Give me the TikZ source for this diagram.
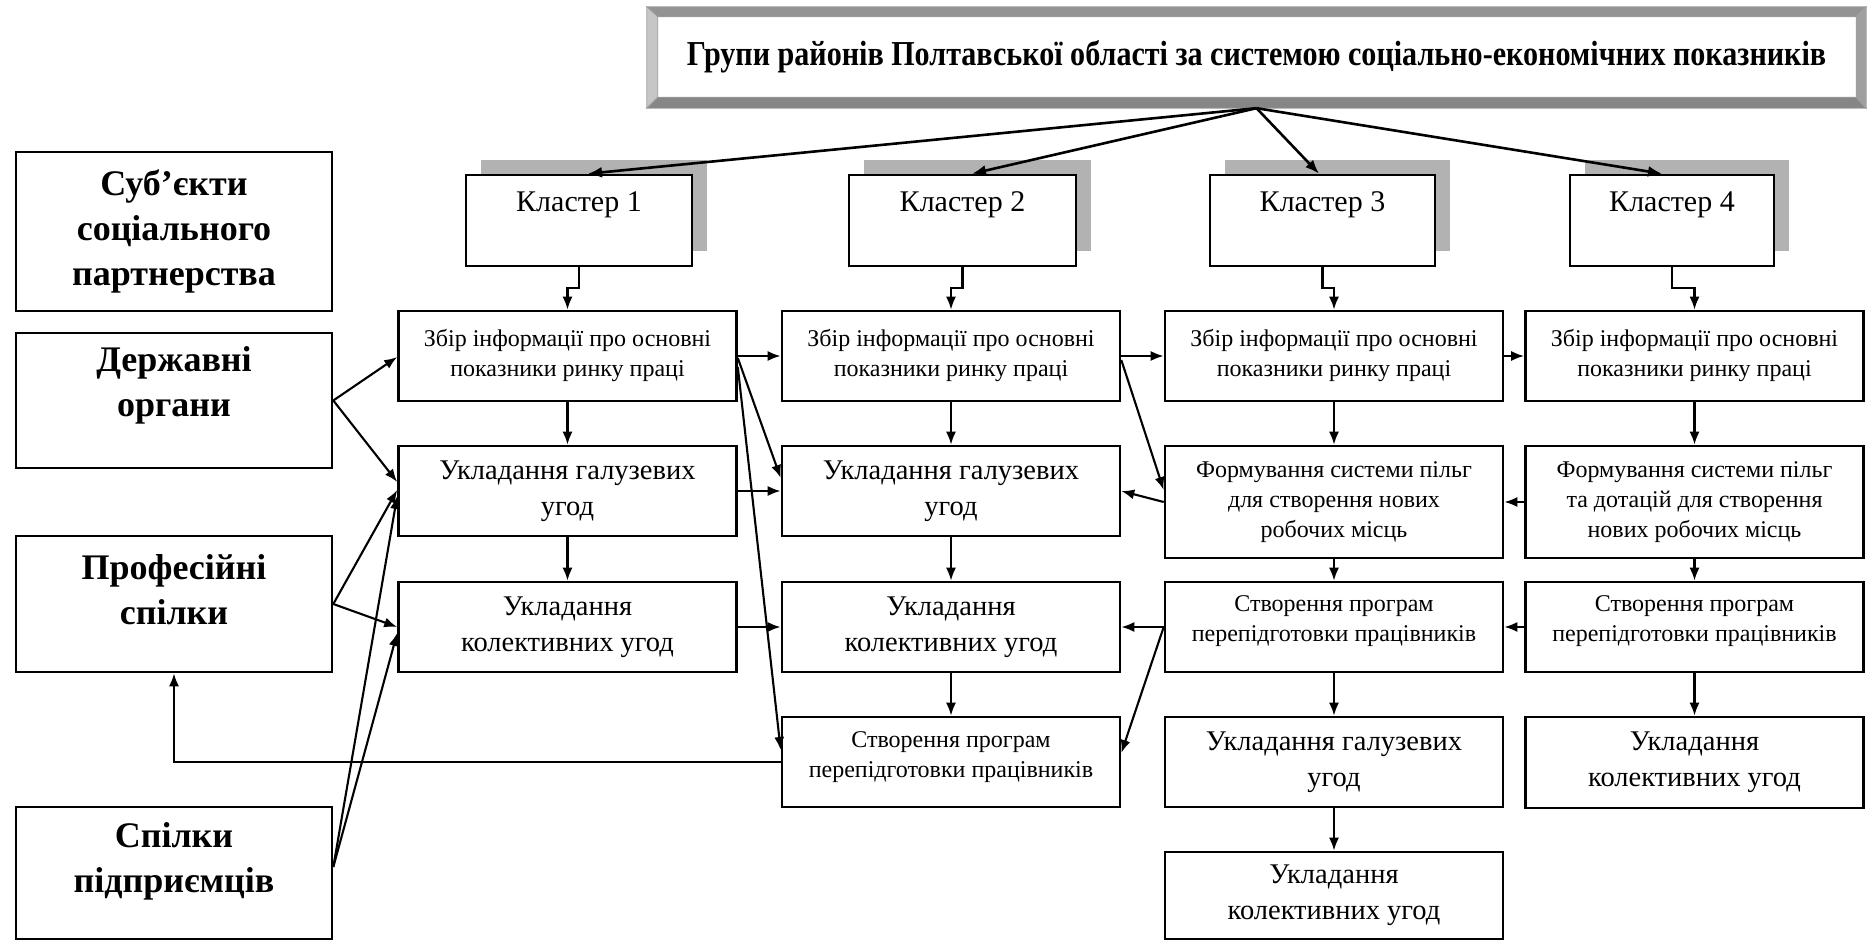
\documentclass[tikz,border=0pt]{standalone}
\usepackage{fontspec}
\setmainfont{Liberation Serif}
\newfontfamily\headfont{Liberation Serif}[FakeStretch=0.86]
\usetikzlibrary{arrows.meta,calc,shadows}

\tikzset{
  txs/.style={font=\fontsize{24}{30}\selectfont},
  txl/.style={font=\fontsize{28.5}{36}\selectfont},
  txk/.style={font=\fontsize{30}{36}\selectfont},
  txb/.style={font=\fontsize{36}{45}\selectfont\bfseries, align=center},
  box/.style={draw=black, line width=2.6pt, fill=white, inner sep=0pt,
    align=center, minimum width=338pt, minimum height=90pt},
  lbox/.style={box, minimum width=316pt, txb},
  clu/.style={box, minimum height=91pt,
    general shadow={fill=gray!60, shadow xshift=15pt, shadow yshift=15pt}},
  cluname/.style={txk, yshift=16pt},
  titlebox/.style={fill=white, inner sep=0pt,
    minimum width=1219pt, minimum height=101pt,
    font=\headfont\fontsize{35}{40}\selectfont\bfseries},
  bevel/.style={draw=gray!75, line width=0.8pt},
  arr/.style={line width=2.1pt, -{Latex[length=13pt,width=10pt]}},
  tarr/.style={line width=2.6pt, -{Latex[length=14pt,width=11pt]}},
}

\begin{document}
\begin{tikzpicture}[x=1pt,y=-1pt]
\useasboundingbox (0,0) rectangle (1869,941);

% heading with a bevelled frame
\node[titlebox, text depth=0pt] (title) at (1256.5,57.5)
  {\raisebox{9pt}{Групи районів Полтавської області за системою соціально-економічних показників}};
\fill[bevel, fill=gray!85] (title.north west) -- (title.north east)
  -- ($(title.north east)+(-10,10)$) -- ($(title.north west)+(11,10)$) -- cycle;
\fill[bevel, fill=gray!45] (title.north west) -- ($(title.north west)+(11,10)$)
  -- ($(title.south west)+(11,-11)$) -- (title.south west) -- cycle;
\fill[bevel, fill=gray!95] (title.south west) -- ($(title.south west)+(11,-11)$)
  -- ($(title.south east)+(-10,-11)$) -- (title.south east) -- cycle;
\fill[bevel, fill=gray!75] (title.north east) -- (title.south east)
  -- ($(title.south east)+(-10,-11)$) -- ($(title.north east)+(-10,10)$) -- cycle;

% participants of social partnership
\node[lbox, minimum height=159pt] (subj) at (174,231.5) {Суб’єкти\\соціального\\партнерства};
\node[lbox, minimum height=135pt, label={[txb, yshift=15pt]center:{Державні\\органи}}] (gov) at (174,400.5) {};
\node[lbox, minimum height=136pt, label={[txb, yshift=14pt]center:{Професійні\\спілки}}] (prof) at (174,604) {};
\node[lbox, minimum height=132pt, label={[txb, yshift=12pt]center:{Спілки\\підприємців}}] (emp) at (174,873) {};

% clusters
\node[clu, minimum width=226pt, label={[cluname]center:Кластер 1}] (k1) at (579,220.5) {};
\node[clu, minimum width=227pt, label={[cluname]center:Кластер 2}] (k2) at (962.5,220.5) {};
\node[clu, minimum width=225pt, label={[cluname]center:Кластер 3}] (k3) at (1322.5,220.5) {};
\node[clu, minimum width=204pt, label={[cluname]center:Кластер 4}] (k4) at (1672,220.5) {};

% cluster 1
\node[box, txs] (z1) at (567.5,356) {Збір інформації про основні\\показники ринку праці};
\node[box, txl] (g1) at (567.5,491) {Укладання галузевих\\угод};
\node[box, txl] (c1) at (567.5,627) {Укладання\\колективних угод};

% cluster 2
\node[box, txs] (z2) at (951,356) {Збір інформації про основні\\показники ринку праці};
\node[box, txl] (g2) at (951,491) {Укладання галузевих\\угод};
\node[box, txl] (c2) at (951,627) {Укладання\\колективних угод};
\node[box, label={[txs, align=center, yshift=5pt]center:{Створення програм\\перепідготовки працівників}}] (s2) at (951,762) {};

% cluster 3
\node[box, txs] (z3) at (1334,356) {Збір інформації про основні\\показники ринку праці};
\node[box, txs, minimum height=112pt] (f3) at (1334,502) {Формування системи пільг\\для створення нових\\робочих місць};
\node[box, label={[txs, align=center, yshift=6pt]center:{Створення програм\\перепідготовки працівників}}] (s3) at (1334,627) {};
\node[box, txl] (g3) at (1334,762) {Укладання галузевих\\угод};
\node[box, txl, minimum height=87pt] (c3) at (1334,895.5) {Укладання\\колективних угод};

% cluster 4
\node[box, txs] (z4) at (1694.5,356) {Збір інформації про основні\\показники ринку праці};
\node[box, txs, minimum height=112pt] (f4) at (1694.5,502) {Формування системи пільг\\та дотацій для створення\\нових робочих місць};
\node[box, label={[txs, align=center, yshift=6pt]center:{Створення програм\\перепідготовки працівників}}] (s4) at (1694.5,627) {};
\node[box, txl, minimum height=91pt] (c4) at (1694.5,762.5) {Укладання\\колективних угод};

% heading to clusters
\draw[tarr] (title.south) -- ($(k1.north)+(9,0)$);
\draw[tarr] (title.south) -- ($(k2.north)+(9.5,0)$);
\draw[tarr] (title.south) -- ($(k3.north)+(-3.5,0)$);
\draw[tarr] (title.south) -- ($(k4.north)+(-10,0)$);

% clusters to data collection
\draw[arr] (k1.south) -- ++(0,21) -| (z1.north);
\draw[arr] (k2.south) -- ++(0,21) -| (z2.north);
\draw[arr] (k3.south) -- ++(0,21) -| (z3.north);
\draw[arr] (k4.south) -- ++(0,21) -| (z4.north);

% vertical chains
\draw[arr] (z1.south) -- (g1.north);
\draw[arr] (g1.south) -- (c1.north);
\draw[arr] (z2.south) -- (g2.north);
\draw[arr] (g2.south) -- (c2.north);
\draw[arr] (c2.south) -- (s2.north);
\draw[arr] (z3.south) -- (f3.north);
\draw[arr] (f3.south) -- (s3.north);
\draw[arr] (s3.south) -- (g3.north);
\draw[arr] (g3.south) -- (c3.north);
\draw[arr] (z4.south) -- (f4.north);
\draw[arr] (f4.south) -- (s4.north);
\draw[arr] (s4.south) -- (c4.north);

% links between clusters
\draw[arr] (z1.east) -- (z2.west);
\draw[arr] (z2.east) -- (z3.west);
\draw[arr] (z3.east) -- (z4.west);
\draw[arr] (g1.east) -- (g2.west);
\draw[arr] (c1.east) -- (c2.west);
\draw[arr] ($(z1.east)+(0,2)$) -- ($(g2.west)+(0,-13)$);
\draw[arr] ($(z1.east)+(0,11)$) -- ($(s2.west)+(0,-12)$);
\draw[arr] ($(z2.east)+(0,4)$) -- ($(f3.west)+(0,-12)$);
\draw[arr] (f3.west) -- (g2.east);
\draw[arr] (f4.west) -- (f3.east);
\draw[arr] (s3.west) -- (c2.east);
\draw[arr] (s4.west) -- (s3.east);
\draw[arr] (s3.west) -- ($(s2.east)+(0,-9)$);

% participants to cluster 1
\draw[arr] (gov.east) -- ($(z1.west)+(0,1)$);
\draw[arr] (gov.east) -- ($(g1.west)+(0,-9)$);
\draw[arr] (prof.east) -- ($(g1.west)+(0,-1)$);
\draw[arr] (prof.east) -- (c1.west);
\draw[arr] ($(emp.east)+(0,-6)$) -- ($(g1.west)+(0,5)$);
\draw[arr] ($(emp.east)+(0,-6)$) -- ($(c1.west)+(0,6)$);

% feedback to trade unions
\draw[arr] (s2.west) -| (prof.south);
\end{tikzpicture}
\end{document}
